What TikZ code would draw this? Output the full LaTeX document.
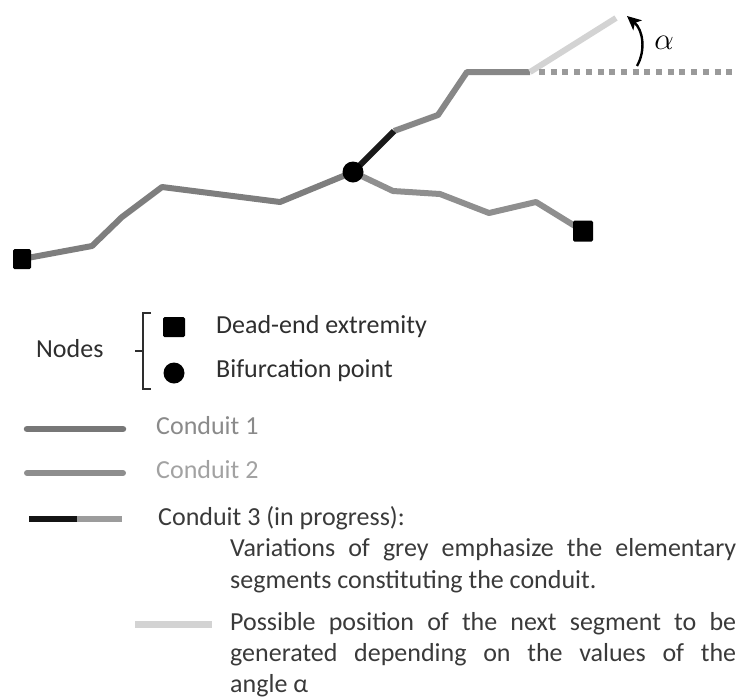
\documentclass[tikz,border=0pt]{standalone}
\usepackage{fix-cm}
\usepackage{fontspec}
\setmainfont{Carlito}
\usetikzlibrary{arrows.meta}
\definecolor{cone}{HTML}{7E7E7E}
\definecolor{ctwo}{HTML}{8F8F8F}
\definecolor{cthree}{HTML}{878787}
\definecolor{cnext}{HTML}{D3D3D3}
\definecolor{cdash}{HTML}{9A9A9A}
\definecolor{lone}{HTML}{777777}
\definecolor{ltwo}{HTML}{8E8E8E}
\definecolor{lthree}{HTML}{9C9C9C}
\definecolor{tdark}{HTML}{2E2E2E}
\definecolor{tone}{HTML}{8A8A8A}
\definecolor{ttwo}{HTML}{A2A2A2}
\definecolor{tdesc}{HTML}{3A3A3A}
\begin{document}
\begin{tikzpicture}[x=1pt,y=-1pt,
  conduit/.style={line width=6pt, line join=round, line cap=round},
  txt/.style={anchor=base west, inner sep=0pt, font=\fontsize{26}{31}\selectfont},
  sqnode/.style={fill=black, draw=none, rectangle, rounded corners=1.5pt, inner sep=0pt},
  dotnode/.style={fill=black, draw=none, circle, inner sep=0pt, minimum size=21pt}]
\useasboundingbox (0,0) rectangle (737,697);

% ---- main drawing coordinates
\coordinate (L) at (22,259);
\coordinate (R) at (583,231);
\coordinate (B) at (353,172);
\coordinate (a1) at (92,246);
\coordinate (a2) at (122,217);
\coordinate (a3) at (162,187);
\coordinate (a4) at (280,202);
\coordinate (b1) at (393,191);
\coordinate (b2) at (440,194);
\coordinate (b3) at (489,213);
\coordinate (b4) at (536,202);
\coordinate (c1) at (394,131);
\coordinate (c2) at (438,115);
\coordinate (c3) at (467,72);
\coordinate (J) at (530,72);
\coordinate (N) at (616,18);
\coordinate (D0) at (539,72);
\coordinate (D1) at (737,72);
\coordinate (arT) at (637,66);
\coordinate (arH) at (627,16);

% conduit 1 (left)
\draw[conduit, cone] (L) -- (a1) -- (a2) -- (a3) -- (a4) -- (B);
% conduit 2 (right)
\draw[conduit, ctwo] (B) -- (b1) -- (b2) -- (b3) -- (b4) -- (R);
% conduit 3 (in progress)
\draw[conduit, cthree, line cap=butt] (c1) -- (c2) -- (c3) -- (J);
\draw[conduit, black!90, line cap=butt] (B) -- (c1);
% next possible segment
\draw[line width=6pt, cnext] (J) -- (N);
% dotted reference line
\draw[line width=6pt, cdash, dash pattern=on 6pt off 5.7pt] (D0) -- (D1);
% angle arrow
\draw[line width=2.4pt, -{Stealth[length=14pt,width=13pt,inset=3.5pt]}]
  (arT) .. controls (646,50) and (643,30) .. (arH);
\node[inner sep=0pt, font=\fontsize{31}{36}\selectfont] (alpha) at (664,43) {$\alpha$};

% nodes
\node[sqnode, minimum width=18pt, minimum height=20pt] (Lsq) at (L) {};
\node[sqnode, minimum width=20pt, minimum height=21pt] (Rsq) at (R) {};
\node[dotnode] (Bdot) at (B) {};

% ---- legend
\node[txt, tdark] (nodes) at (36,357) {Nodes};
\draw[line width=2.5pt, tdark] (151,313) -- (143,313) -- (143,389) -- (151,389);
\draw[line width=2.5pt, tdark] (135,351) -- (143,351);
\node[sqnode, minimum width=22pt, minimum height=20pt] (lsq) at (174,327) {};
\node[dotnode] (ldot) at (174,373) {};
\node[txt, tdark] (deadend) at (216,333) {Dead-end extremity};
\node[txt, tdark] (bifur) at (216,377) {Bifurcation point};

\coordinate (l1a) at (27,429); \coordinate (l1b) at (123,429);
\coordinate (l2a) at (27,473); \coordinate (l2b) at (123,473);
\coordinate (l3a) at (29,519); \coordinate (l3m) at (77,519); \coordinate (l3b) at (122,519);
\coordinate (l4a) at (135,624); \coordinate (l4b) at (212,624);
\draw[line width=6.5pt, line cap=round, lone] (l1a) -- (l1b);
\draw[line width=6pt, line cap=round, ltwo] (l2a) -- (l2b);
\draw[line width=6pt, black!92] (l3a) -- (l3m);
\draw[line width=6pt, lthree] (l3m) -- (l3b);
\draw[line width=7pt, cnext] (l4a) -- (l4b);

\node[txt, tone] (cd1) at (156,434) {Conduit 1};
\node[txt, ttwo] (cd2) at (156,478) {Conduit 2};
\node[txt, tdesc] (cd3) at (158,525) {Conduit 3 (in progress):};
\node[txt, tdesc] (d1) at (230,556) {\makebox[506pt][s]{Variations of grey emphasize the elementary}};
\node[txt, tdesc] (d2) at (230,588) {segments constituting the conduit.};
\node[txt, tdesc] (d3) at (230,630) {\makebox[506pt][s]{Possible position of the next segment to be}};
\node[txt, tdesc] (d4) at (230,661) {\makebox[506pt][s]{generated depending on the values of the}};
\node[txt, tdesc] (d5) at (230,692) {angle α};
\end{tikzpicture}
\end{document}
